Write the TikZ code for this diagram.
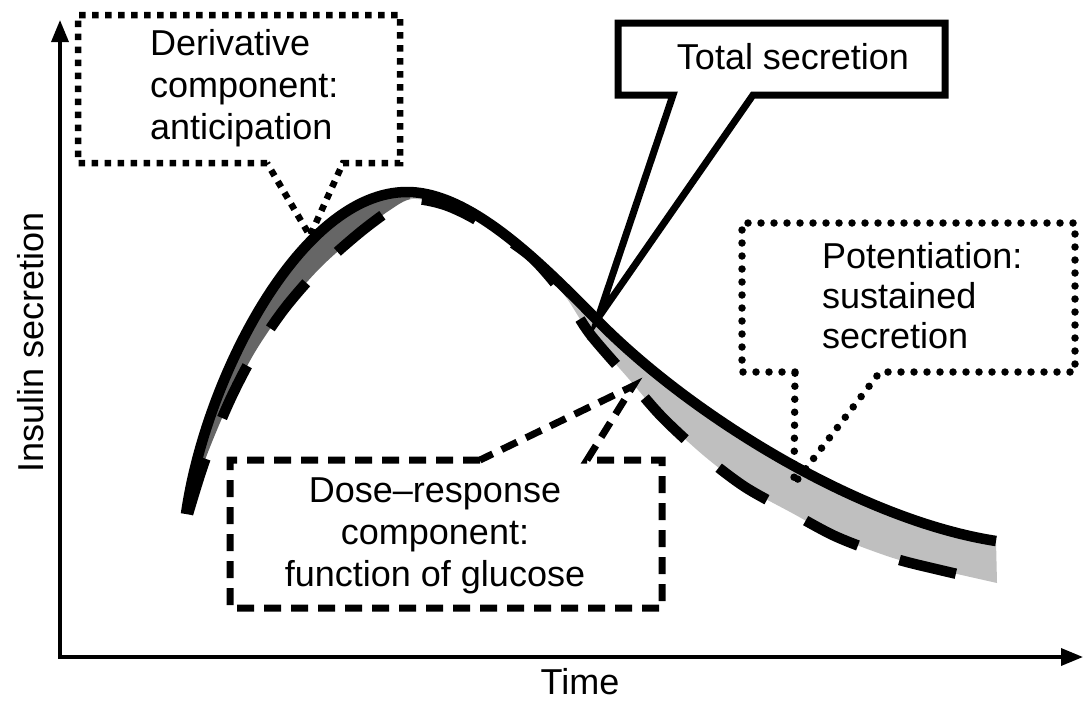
\documentclass[tikz,border=0pt]{standalone}
\usepackage{fontspec}
\setmainfont{Liberation Sans}
\usetikzlibrary{arrows.meta}
\begin{document}
\begin{tikzpicture}[x=1pt,y=-1pt,
  lbl/.style={font=\fontsize{36}{42}\selectfont, inner sep=0pt},
  axis/.style={line width=3.5pt, {Triangle[length=22pt,width=17pt]}-{Triangle[length=22pt,width=17pt]}, line join=miter},
  totalline/.style={line width=10.5pt},
  doseline/.style={line width=10.5pt, dash pattern=on 58pt off 44pt},
  bandlight/.style={fill=black!25},
  banddark/.style={fill=black!60},
  dotsq/.style={line width=6.5pt, dash pattern=on 6.5pt off 6.5pt},
  dotrd/.style={line width=7.5pt, dash pattern=on 0pt off 13pt, line cap=round},
  dashbox/.style={line width=7pt, dash pattern=on 17pt off 10pt},
  solidbox/.style={line width=7pt, line join=miter},
]
\useasboundingbox (0,0) rectangle (1084,702);

% band between total secretion and dose-response curves
\def\bandpath{(186,514) .. controls (205,380) and (300,192) .. (407,192)
  .. controls (470,192) and (540,262) .. (597,320)
  .. controls (690,415) and (860,520) .. (996,541)
  -- plot[smooth] coordinates {(997,583) (940,570) (893,558) (837,537) (792,513) (745,487) (703,455) (662,417) (628,378) (590,334) (565,296) (530,256) (480,222) (445,205) (412,199) (390,210) (358,234) (320,268) (285,308) (255,352) (230,400) (205,460) (188,514)} -- cycle}
\begin{scope}
  \clip (410,0) rectangle (1084,702);
  \path[bandlight] \bandpath;
\end{scope}
\begin{scope}
  \clip (0,0) rectangle (410,702);
  \path[banddark] \bandpath;
\end{scope}

% dose-response component (dashed)
\draw[doseline] plot[smooth] coordinates {(188,514) (205,460) (230,400) (255,352) (285,308) (320,268) (358,234) (390,210) (412,199) (445,205) (480,222) (530,256) (565,296) (590,334) (628,378) (662,417) (703,455) (745,487) (792,513) (837,537) (893,558) (940,570) (997,583)};

% total secretion (solid)
\draw[totalline] (186,514) .. controls (205,380) and (300,192) .. (407,192)
  .. controls (470,192) and (540,262) .. (597,320)
  .. controls (690,415) and (860,520) .. (996,541);

% axes
\coordinate (ytop) at (60,20);
\coordinate (xend) at (1083,657);
\draw[axis] (ytop) |- (xend);
\node[lbl, rotate=90] (ylab) at (31,342) {Insulin secretion};
\node[lbl] (xlab) at (580,682) {Time};

% derivative callout
\coordinate (dA) at (267,163);
\coordinate (dB) at (343,163);
\coordinate (dtip) at (310,236);
\draw[dotsq] (dA) -| (78,15) -| (400,163) -- (dB) -- (dtip) -- cycle;
\node[lbl, align=left, anchor=west] (derivtxt) at (150,88) {Derivative\\component:\\anticipation};

% total secretion callout
\coordinate (tA) at (673,95);
\coordinate (tB) at (753,95);
\coordinate (ttip) at (598,318);
\draw[solidbox] (tA) -| (618,23) -| (945,95) -- (tB) -- (ttip) -- cycle;
\node[lbl] (totaltxt) at (793,57) {Total secretion};

% potentiation callout
\coordinate (pA) at (795,372);
\coordinate (pB) at (880,372);
\coordinate (ptip) at (794,484);
\draw[dotrd] (pA) -| (742,223) -| (1075,372) -- (pB) -- (ptip) -- cycle;
\node[lbl, align=left, anchor=west, font=\fontsize{36}{40}\selectfont] (pottxt) at (822,296) {Potentiation:\\sustained\\secretion};

% dose-response callout
\coordinate (qA) at (480,460);
\coordinate (qB) at (587,460);
\coordinate (qtip) at (633,386);
\draw[dashbox] (qA) -| (230,608) -| (662,460) -- (qB) -- (qtip) -- cycle;
\node[lbl, align=center] (dosetxt) at (435,536) {Dose--response\\component:\\function of glucose};
\end{tikzpicture}
\end{document}
